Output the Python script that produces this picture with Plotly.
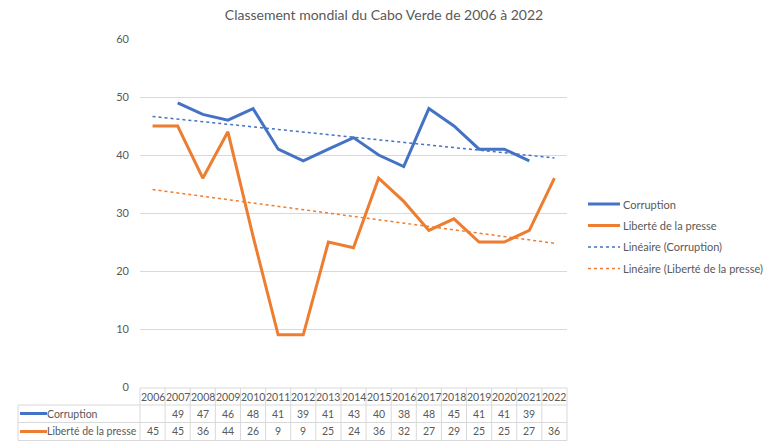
import numpy as np
import plotly.graph_objects as go

# Data
years = list(range(2006, 2023))
corruption = [None, 49, 47, 46, 48, 41, 39, 41, 43, 40, 38, 48, 45, 41, 41, 39, None]
presse = [45, 45, 36, 44, 26, 9, 9, 25, 24, 36, 32, 27, 29, 25, 25, 27, 36]
y_ticks = [0, 10, 20, 30, 40, 50, 60]
series_names = ["Corruption", "Liberté de la presse",
                "Linéaire (Corruption)", "Linéaire (Liberté de la presse)"]

blue = "#4472C4"
orange = "#ED7D31"
txt = "#595959"
grid = "#D9D9D9"
font = "Lato"

# Excel-style linear trendlines on category index 1..17
idx = np.arange(1, len(years) + 1)


def trend(vals):
    pts = [(i, v) for i, v in zip(idx, vals) if v is not None]
    xs, ys = zip(*pts)
    a, b = np.polyfit(xs, ys, 1)
    return a * idx + b


W, H = 768, 445
L, R, T, B = 140, 567, 39, 387


def py(p):
    return (B - p) / (B - T)


def px(p):
    return (p - L) / (R - L)


styles = [dict(color=blue, width=3), dict(color=orange, width=3),
          dict(color=blue, width=1.5, dash="dot"), dict(color=orange, width=1.5, dash="dot")]

fig = go.Figure()
fig.add_scatter(x=years, y=corruption, mode="lines", name=series_names[0], line=styles[0])
fig.add_scatter(x=years, y=presse, mode="lines", name=series_names[1], line=styles[1])
fig.add_scatter(x=years, y=trend(corruption), mode="lines", name=series_names[2], line=styles[2])
fig.add_scatter(x=years, y=trend(presse), mode="lines", name=series_names[3], line=styles[3])

shapes = []
ann = []
line_style = dict(color=grid, width=1)
# data table rows
row_y = [388, 405, 422.5, 440.5]
shapes.append(dict(type="line", xref="paper", yref="paper", x0=px(L), x1=px(R),
                   y0=py(row_y[0]), y1=py(row_y[0]), line=line_style, layer="above"))
for ry in row_y[1:]:
    shapes.append(dict(type="line", xref="paper", yref="paper", x0=px(18), x1=px(R),
                       y0=py(ry), y1=py(ry), line=line_style, layer="above"))
shapes.append(dict(type="line", xref="paper", yref="paper", x0=px(18), x1=px(18),
                   y0=py(row_y[1]), y1=py(row_y[3]), line=line_style, layer="above"))
for k in range(len(years) + 1):
    xk = px(L + k * (R - L) / len(years))
    shapes.append(dict(type="line", xref="paper", yref="paper", x0=xk, x1=xk,
                       y0=py(row_y[0]), y1=py(row_y[3]), line=line_style, layer="above"))
# legend keys inside table
for ry, st in [(413.5, styles[0]), (431.5, styles[1])]:
    shapes.append(dict(type="line", xref="paper", yref="paper", x0=px(20), x1=px(47),
                       y0=py(ry), y1=py(ry), line=st))

tf = dict(family=font, size=10.5, color=txt)
for yr in years:
    ann.append(dict(x=yr, y=py(397), xref="x", yref="paper", text=str(yr),
                    showarrow=False, font=tf, yanchor="middle"))
for vals, ry in [(corruption, 413.5), (presse, 431.5)]:
    for yr, v in zip(years, vals):
        if v is not None:
            ann.append(dict(x=yr, y=py(ry), xref="x", yref="paper", text=str(v),
                            showarrow=False, font=tf, yanchor="middle"))
for label, ry in [(series_names[0], 413.5), (series_names[1], 431.5)]:
    ann.append(dict(x=px(45), y=py(ry), xref="paper", yref="paper", text=label,
                    showarrow=False, xanchor="left", yanchor="middle", font=tf))

# legend on the right
lf = dict(family=font, size=11, color=txt)
for name, st, ly in zip(series_names, styles, [204, 225.5, 247, 268.5]):
    shapes.append(dict(type="line", xref="paper", yref="paper", x0=px(588), x1=px(620),
                       y0=py(ly), y1=py(ly), line=st))
    ann.append(dict(x=px(621), y=py(ly), xref="paper", yref="paper", text=name,
                    showarrow=False, xanchor="left", yanchor="middle", font=lf))

fig.update_layout(
    width=W, height=H,
    margin=dict(l=L, r=W - R, t=T, b=H - B),
    paper_bgcolor="white", plot_bgcolor="white",
    font=dict(family=font, color=txt, size=11),
    title=dict(text="Classement mondial du Cabo Verde de 2006 à 2022",
               x=0.5, xanchor="center", y=1 - 15 / H, yanchor="middle",
               font=dict(family=font, size=14, color=txt)),
    xaxis=dict(range=[years[0] - 0.5, years[-1] + 0.5], showgrid=False,
               showticklabels=False, zeroline=False, showline=False, fixedrange=True),
    yaxis=dict(range=[0, 60], tickvals=y_ticks, showgrid=True, gridcolor=grid,
               gridwidth=1, zeroline=False, showline=False, ticks="",
               ticklabelstandoff=10, tickfont=dict(family=font, size=11, color=txt),
               fixedrange=True),
    shapes=shapes,
    annotations=ann,
    showlegend=False,
)

fig.write_html(
    "out.html",
    config={"displayModeBar": False},
    post_script="document.body.style.margin='0';document.body.style.overflow='hidden';",
)
